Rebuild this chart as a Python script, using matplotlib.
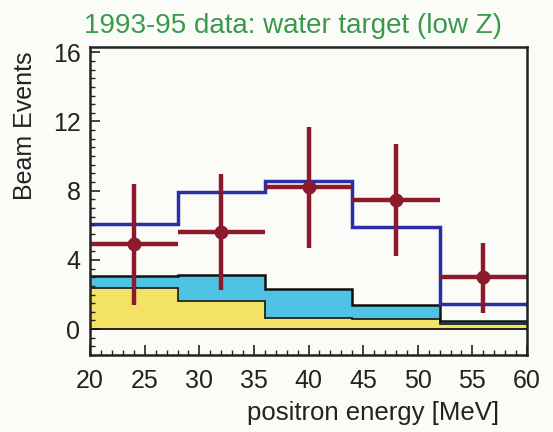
import matplotlib
matplotlib.use('Agg')
import matplotlib.pyplot as plt
from matplotlib.ticker import MultipleLocator

plt.rcParams['font.family'] = ['Liberation Sans', 'DejaVu Sans']

# bin edges (MeV)
edges = [20, 28, 36, 44, 52, 60]
centers = [24, 32, 40, 48, 56]

# measured beam events with asymmetric errors
data = [4.9, 5.6, 8.2, 7.45, 3.0]
err_lo = [3.5, 3.35, 3.5, 3.2, 2.05]
err_hi = [3.5, 3.35, 3.5, 3.25, 2.0]

# expectation histograms
total_expect = [6.1, 7.95, 8.55, 5.9, 1.45]
bkg_total = [3.1, 3.15, 2.3, 1.42, 0.48]
bkg_yellow = [2.38, 1.64, 0.65, 0.58, 0.3]

BG = '#fbfbf8'
INK = '#222222'
BLUE = '#2b2fa6'
RED = '#8a1a2c'
CYAN = '#4ec3e3'
YELLOW = '#f3e264'

fig = plt.figure(figsize=(5.53, 4.32), dpi=100)
fig.patch.set_facecolor(BG)
ax = fig.add_axes([0.163, 0.178, 0.79, 0.713])
ax.set_facecolor(BG)

ax.stairs(bkg_yellow, edges, baseline=0, fill=True, color=YELLOW, lw=0)
ax.stairs(bkg_total, edges, baseline=bkg_yellow, fill=True, color=CYAN, lw=0)
ax.stairs(bkg_yellow, edges, baseline=None, color=INK, lw=1.3)
ax.stairs(bkg_total, edges, baseline=None, color='#111111', lw=1.8)
ax.axhline(0, color='#111111', lw=1.3)

ax.stairs(total_expect, edges, baseline=None, color=BLUE, lw=2.5)

ax.errorbar(centers, data, xerr=4, yerr=[err_lo, err_hi], fmt='o',
            color=RED, ms=9, elinewidth=3.2, capsize=0)

ax.set_xlim(20, 60)
ax.set_ylim(-1.5, 16.3)
ax.xaxis.set_major_locator(MultipleLocator(5))
ax.xaxis.set_minor_locator(MultipleLocator(1))
ax.yaxis.set_major_locator(MultipleLocator(4))
ax.yaxis.set_minor_locator(MultipleLocator(0.5))
ax.tick_params(which='both', direction='in', top=False, right=False,
               labelsize=18, labelcolor=INK, color=INK)
ax.tick_params(axis='x', pad=10)
ax.tick_params(axis='y', pad=7)
ax.tick_params(which='major', length=7, width=1.2)
ax.tick_params(which='minor', length=3.5, width=1.0)
for s in ax.spines.values():
    s.set_linewidth(1.8)
    s.set_color(INK)

fig.text(0.53, 0.94, '1993-95 data: water target (low Z)', color='#3a9a4c',
         fontsize=20, ha='center', va='center')
fig.text(0.675, 0.044, 'positron energy [MeV]', color=INK,
         fontsize=18.5, ha='center', va='center')
fig.text(0.045, 0.71, 'Beam Events', color=INK, fontsize=18,
         rotation=90, ha='center', va='center')

fig.savefig('out.png', dpi=100, facecolor=BG)
